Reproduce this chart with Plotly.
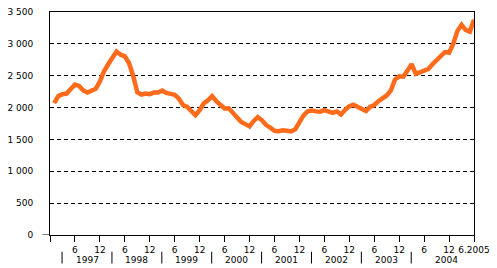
import plotly.graph_objects as go

# Monthly values, Jan 1997 .. Jun 2005
values = [
    2070, 2180, 2210, 2220, 2290, 2360, 2340, 2270, 2235, 2275, 2295, 2410,   # 1997
    2570, 2680, 2790, 2880, 2830, 2805, 2700, 2500, 2240, 2205, 2220, 2210,   # 1998
    2235, 2236, 2267, 2230, 2215, 2200, 2140, 2040, 2010, 1940, 1880, 1960,   # 1999
    2065, 2113, 2180, 2100, 2030, 1985, 1990, 1915, 1830, 1775, 1740, 1705,   # 2000
    1790, 1850, 1800, 1725, 1685, 1635, 1630, 1645, 1635, 1625, 1660, 1760,   # 2001
    1877, 1940, 1955, 1940, 1935, 1960, 1940, 1918, 1940, 1893, 1965, 2020,   # 2002
    2046, 2010, 1980, 1945, 2010, 2040, 2100, 2150, 2190, 2270, 2440, 2490,   # 2003
    2485, 2580, 2680, 2530, 2560, 2590, 2605, 2680, 2750, 2810, 2870, 2860,   # 2004
    3000, 3200, 3300, 3220, 3190, 3380,                                       # 2005
]
month_index = list(range(1, len(values) + 1))

tick_vals = [0] + list(range(6, 103, 6))
tick_text = [""] + ["6" if v % 12 == 6 else "12" for v in range(6, 103, 6)]
tick_text[-1] = "6.2005"

year_labels = ["1997", "1998", "1999", "2000", "2001", "2002", "2003", "2004"]
year_label_pos = [8.9, 20.9, 32.9, 44.9, 56.9, 68.9, 80.9, 95.3]
separator_pos = [2.9 + 12 * k for k in range(8)]

FONT = dict(family="DejaVu Sans", size=9, color="black")

fig = go.Figure()
fig.add_trace(go.Scatter(
    x=month_index, y=values, mode="lines",
    line=dict(color="#FF6B1A", width=4.5),
    hoverinfo="skip",
))

annotations = []
for lbl, pos in zip(year_labels, year_label_pos):
    annotations.append(dict(
        x=pos, y=-0.112, xref="x", yref="paper", text=lbl, showarrow=False,
        xanchor="center", yanchor="middle", font=FONT,
    ))

shapes = []
for s in separator_pos:
    shapes.append(dict(type="line", x0=s, x1=s, xref="x", y0=-0.075, y1=-0.128,
                       yref="paper", line=dict(color="black", width=1)))
# short extension of x axis line to the left at zero
shapes.append(dict(type="line", x0=-8 / 440, x1=0, xref="paper", y0=0, y1=0,
                   yref="y", line=dict(color="black", width=1)))

fig.update_layout(
    width=497, height=268,
    margin=dict(l=41, r=16, t=7, b=33),
    paper_bgcolor="white", plot_bgcolor="white",
    showlegend=False,
    separators=". ",
    font=FONT,
    annotations=annotations,
    shapes=shapes,
    xaxis=dict(
        range=[0, 102], tickmode="array", tickvals=tick_vals, ticktext=tick_text,
        ticks="outside", ticklen=6, tickcolor="black", tickwidth=1,
        showline=True, linecolor="black", linewidth=1, mirror=True,
        showgrid=False, zeroline=False, tickfont=FONT, tickangle=0,
    ),
    yaxis=dict(
        range=[0, 3500], tickvals=[0, 500, 1000, 1500, 2000, 2500, 3000, 3500],
        tickformat=",d", ticks="", ticklabelstandoff=14,
        showline=True, linecolor="black", linewidth=1, mirror=True,
        showgrid=True, gridcolor="black", gridwidth=1, griddash="4px,3px",
        zeroline=False, tickfont=FONT,
    ),
)

fig.write_html("out.html")
